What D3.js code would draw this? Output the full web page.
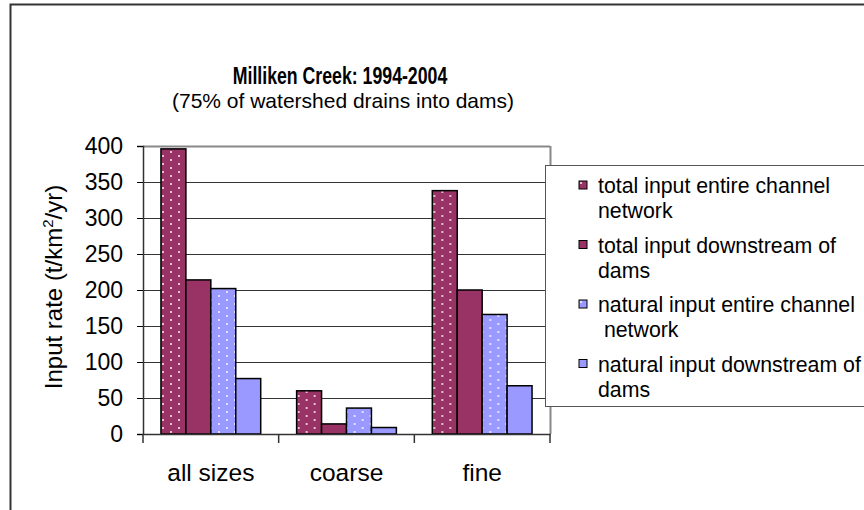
<!DOCTYPE html>
<html>
<head>
<meta charset="utf-8">
<script src="https://cdn.jsdelivr.net/npm/d3@7"></script>
<style>
  body { margin: 0; background: #fff; }
  text { font-family: "Liberation Sans", Arial, sans-serif; fill: #000; }
</style>
</head>
<body>
<svg id="chart" width="864" height="510"></svg>
<script>
var categories = ["all sizes", "coarse", "fine"];
var seriesNames = [
  ["total input entire channel", "network"],
  ["total input downstream of", "dams"],
  ["natural input entire channel", " network"],
  ["natural input downstream of", "dams"]
];
var totalEntire = [396, 60, 338];
var totalDownstream = [214, 14, 200];
var naturalEntire = [202, 36, 166];
var naturalDownstream = [77, 9, 67];
var yTicks = [0, 50, 100, 150, 200, 250, 300, 350, 400];

var seriesValues = [totalEntire, totalDownstream, naturalEntire, naturalDownstream];
var seriesColor = ["#993366", "#993366", "#9999ff", "#9999ff"];
var seriesDotted = [true, false, true, false];

var svg = d3.select("#chart"),
    margin = {top: 146, right: 314, bottom: 76, left: 143},
    width = +svg.attr("width") - margin.left - margin.right,
    height = +svg.attr("height") - margin.top - margin.bottom;

// dotted fills
var defs = svg.append("defs");
["#993366", "#9999ff"].forEach(function(c, i) {
  var p = defs.append("pattern")
      .attr("id", "dots" + i)
      .attr("patternUnits", "userSpaceOnUse")
      .attr("width", 16).attr("height", 8);
  p.append("rect").attr("width", 16).attr("height", 8).attr("fill", c);
  p.append("rect").attr("x", 3).attr("y", 1).attr("width", 2).attr("height", 2)
      .attr("fill", "#fff").attr("opacity", 0.7);
  p.append("rect").attr("x", 11).attr("y", 5).attr("width", 2).attr("height", 2)
      .attr("fill", "#fff").attr("opacity", 0.7);
});
function fillOf(j) {
  if (seriesDotted[j]) return "url(#dots" + (seriesColor[j] == "#993366" ? 0 : 1) + ")";
  return seriesColor[j];
}

// outer frame
svg.append("rect")
    .attr("x", 10.5).attr("y", 4.5)
    .attr("width", 900).attr("height", 600)
    .attr("fill", "none").attr("stroke", "#333").attr("stroke-width", 2);

svg.append("text")
    .attr("transform", "translate(340,84) scale(0.77,1)")
    .attr("text-anchor", "middle")
    .style("font-size", "23px").style("font-weight", "bold")
    .text("Milliken Creek: 1994-2004");
svg.append("text")
    .attr("x", 343).attr("y", 108)
    .attr("text-anchor", "middle")
    .style("font-size", "21px")
    .text("(75% of watershed drains into dams)");

var x0 = d3.scaleBand().domain(categories).range([0, width]).padding(0);
var x1 = d3.scaleBand().domain(d3.range(4)).range([0, x0.bandwidth()])
    .paddingInner(0).paddingOuter(0.72);
var y = d3.scaleLinear().domain([0, 400]).range([height, 0]);

var g = svg.append("g")
    .attr("transform", "translate(" + margin.left + "," + margin.top + ")");

// grid
g.append("g")
    .selectAll("line")
    .data(yTicks.slice(1))
    .enter().append("line")
      .attr("x1", 0).attr("x2", width)
      .attr("y1", function(d) { return Math.round(y(d)) + 0.5; })
      .attr("y2", function(d) { return Math.round(y(d)) + 0.5; })
      .attr("stroke", function(d) { return d == 400 ? "#888" : "#333"; })
      .attr("stroke-width", function(d) { return d == 400 ? 2 : 1; });
g.append("line")
    .attr("x1", width + 0.5).attr("x2", width + 0.5)
    .attr("y1", 0).attr("y2", height)
    .attr("stroke", "#888").attr("stroke-width", 2);

// bars
var groups = g.selectAll(".cat")
    .data(categories)
    .enter().append("g")
      .attr("class", "cat")
      .attr("transform", function(d) { return "translate(" + x0(d) + ",0)"; });

groups.selectAll("rect")
    .data(function(d, i) { return seriesValues.map(function(s, j) { return {j: j, v: s[i]}; }); })
    .enter().append("rect")
      .attr("x", function(d) { return x1(d.j); })
      .attr("y", function(d) { return y(d.v); })
      .attr("width", x1.bandwidth())
      .attr("height", function(d) { return height - y(d.v); })
      .attr("fill", function(d) { return fillOf(d.j); })
      .attr("stroke", "#000").attr("stroke-width", 1.5);

// axes
var yAxis = g.append("g")
    .call(d3.axisLeft(y).tickValues(yTicks).tickSize(6).tickPadding(14));
yAxis.select(".domain").attr("stroke", "#333").attr("stroke-width", 1.5);
yAxis.selectAll("text").style("font-size", "23px");

var xAxis = g.append("g")
    .attr("transform", "translate(0," + height + ")")
    .call(d3.axisBottom(x0).tickSize(0).tickPadding(30));
xAxis.select(".domain").attr("stroke", "#333").attr("stroke-width", 1.5);
xAxis.selectAll("text").style("font-size", "24.5px");
xAxis.selectAll(".sep")
    .data(categories.concat(["end"]))
    .enter().append("line")
      .attr("class", "sep")
      .attr("x1", function(d, i) { return i * x0.step(); })
      .attr("x2", function(d, i) { return i * x0.step(); })
      .attr("y1", 0).attr("y2", 9)
      .attr("stroke", "#333").attr("stroke-width", 1.5);

svg.append("text")
    .attr("transform", "translate(62,287) rotate(-90)")
    .attr("text-anchor", "middle")
    .style("font-size", "24px")
    .html("Input rate (t/km<tspan dy='-9' style='font-size:15px'>2</tspan><tspan dy='9'>/yr)</tspan>");

// legend
var legend = svg.append("g").attr("transform", "translate(545,165)");
legend.append("rect")
    .attr("x", 0.5).attr("y", 0.5)
    .attr("width", 400).attr("height", 241)
    .attr("fill", "#fff").attr("stroke", "#555");

var items = legend.selectAll(".item")
    .data(seriesNames)
    .enter().append("g")
      .attr("class", "item")
      .attr("transform", function(d, i) { return "translate(0," + (16 + i * 59.5) + ")"; });
items.append("rect")
    .attr("x", 34).attr("y", 0)
    .attr("width", 8).attr("height", 8)
    .attr("fill", function(d, i) { return fillOf(i); })
    .attr("stroke", "#000").attr("stroke-width", 1);
items.append("text")
    .attr("x", 53).attr("y", 12)
    .style("font-size", "21.3px")
    .style("white-space", "pre")
    .text(function(d) { return d[0]; });
items.append("text")
    .attr("x", 53).attr("y", 37)
    .style("font-size", "21.3px")
    .style("white-space", "pre")
    .text(function(d) { return d[1]; });
</script>
</body>
</html>
